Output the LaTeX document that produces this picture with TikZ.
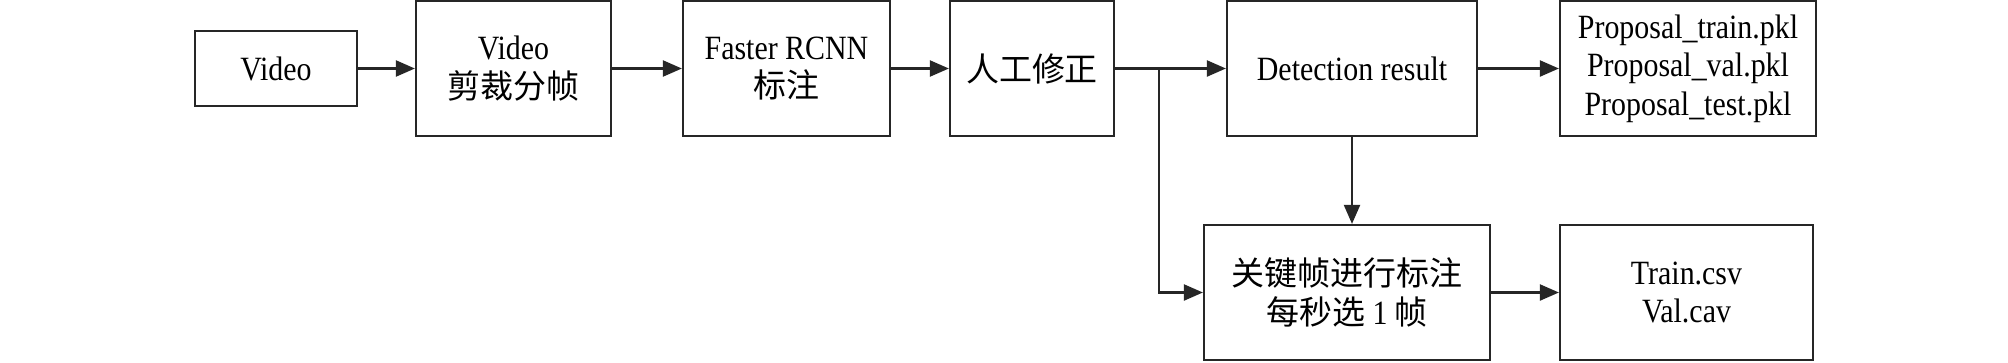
\documentclass[tikz,border=0pt]{standalone}
\usepackage{fontspec}
\setmainfont{Liberation Serif}[FakeStretch=0.88]
\newfontfamily\cjk{Noto Sans CJK SC}[Scale=0.97]
\usetikzlibrary{arrows.meta}
\begin{document}
\begin{tikzpicture}[x=1pt,y=-1pt,
  box/.style={draw=black!85,line width=2.2pt,minimum width=#1,minimum height=135pt,inner sep=0pt,align=center,font=\fontsize{34}{38.5}\selectfont},
  arr/.style={draw=black!85,line width=2.2pt,-{Triangle[length=19pt,width=16pt]}},
  ln/.style={draw=black!85,line width=2.2pt}]
\useasboundingbox (0,0) rectangle (2008,362);
\node[box=162pt,minimum height=75pt] (v) at (276,68.5) {Video};
\node[box=195pt] (b2) at (513.5,68.5) {Video\\{\cjk 剪裁分帧}};
\node[box=207pt] (b3) at (786.5,68.5) {Faster RCNN\\{\cjk 标注}};
\node[box=164pt] (b4) at (1032,68.5) {{\cjk 人工修正}};
\node[box=250pt] (b5) at (1352,68.5) {Detection result};
\node[box=256pt] (b6) at (1688,68.5) {Proposal\_train.pkl\\Proposal\_val.pkl\\Proposal\_test.pkl};
\node[box=286pt] (b7) at (1347,292.5) {{\cjk 关键帧进行标注}\\{\cjk 每秒选} 1 {\cjk 帧}};
\node[box=253pt] (b8) at (1686.5,292.5) {Train.csv\\Val.cav};
\coordinate (j) at (1159,68.5);
\draw[arr] (v) -- (b2);
\draw[arr] (b2) -- (b3);
\draw[arr] (b3) -- (b4);
\draw[ln] (b4.east) -- (j);
\draw[arr] (j) -- (b5.west);
\draw[arr] (j) |- (b7.west);
\draw[arr] (b5.south) -- (b5.south |- b7.north);
\draw[arr] (b5) -- (b6);
\draw[arr] (b7) -- (b8);
\end{tikzpicture}
\end{document}
